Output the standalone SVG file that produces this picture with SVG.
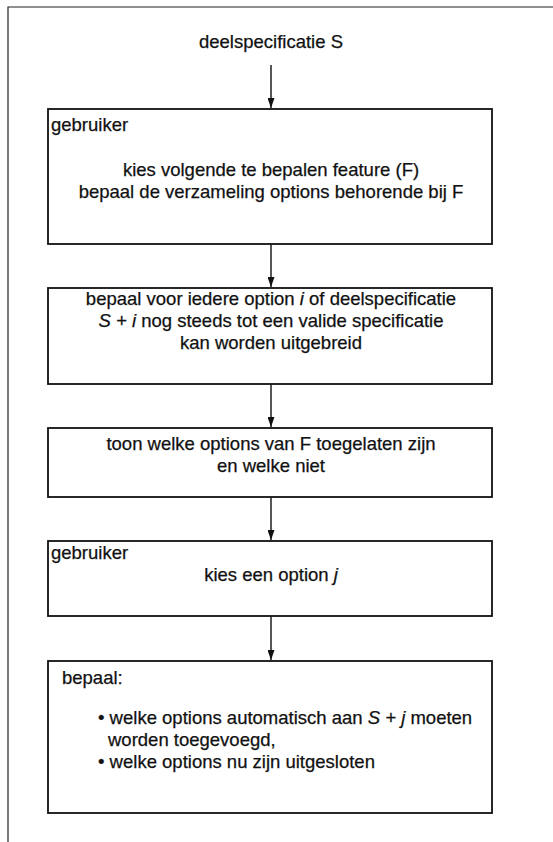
<svg xmlns="http://www.w3.org/2000/svg" width="553" height="842" viewBox="0 0 553 842">
<defs>
<marker id="ah" markerWidth="10" markerHeight="7" refX="10" refY="3.5" orient="auto" markerUnits="userSpaceOnUse" viewBox="0 0 10 7">
<path d="M0,0 L10,3.5 L0,7 Z" fill="#111"/>
</marker>
</defs>
<style>
text{font-family:"Liberation Sans",Arial,sans-serif;font-size:18.5px;fill:#111;stroke:#111;stroke-width:0.25}
.c{text-anchor:middle}
.box{fill:#fff;stroke:#111;stroke-width:1.8}
.con{stroke:#111;stroke-width:1.4;fill:none;marker-end:url(#ah)}
.frame{stroke:#222;stroke-width:1.2;fill:none}
.it{font-style:italic}
</style>
<rect width="553" height="842" fill="#fff"/>
<path class="frame" d="M8,842 L8,7 L553,7"/>
<g id="start"><text class="c" x="271" y="48">deelspecificatie S</text></g>
<g id="connectors">
<path class="con" d="M271,65 L271,108"/>
<path class="con" d="M271,244 L271,287"/>
<path class="con" d="M271,384 L271,427"/>
<path class="con" d="M271,497 L271,540"/>
<path class="con" d="M271,616 L271,660"/>
</g>
<g id="n1">
<rect class="box" x="48" y="109" width="444" height="135"/>
<text x="51" y="131">gebruiker</text>
<text class="c" x="271" y="176">kies volgende te bepalen feature (F)</text>
<text class="c" x="271" y="198">bepaal de verzameling options behorende bij F</text>
</g>
<g id="n2">
<rect class="box" x="48" y="288" width="444" height="96"/>
<text class="c" x="271" y="305">bepaal voor iedere option <tspan class="it">i</tspan> of deelspecificatie</text>
<text class="c" x="271" y="327"><tspan class="it">S + i</tspan> nog steeds tot een valide specificatie</text>
<text class="c" x="271" y="349">kan worden uitgebreid</text>
</g>
<g id="n3">
<rect class="box" x="48" y="428" width="444" height="69"/>
<text class="c" x="271" y="450">toon welke options van F toegelaten zijn</text>
<text class="c" x="271" y="472">en welke niet</text>
</g>
<g id="n4">
<rect class="box" x="48" y="541" width="444" height="75"/>
<text x="51" y="559">gebruiker</text>
<text class="c" x="271" y="581">kies een option <tspan class="it">j</tspan></text>
</g>
<g id="n5">
<rect class="box" x="48" y="661" width="444" height="152"/>
<text x="62" y="684">bepaal:</text>
<text x="98" y="724">• welke options automatisch aan <tspan class="it">S + j</tspan> moeten</text>
<text x="108" y="746">worden toegevoegd,</text>
<text x="98" y="768">• welke options nu zijn uitgesloten</text>
</g>
</svg>
